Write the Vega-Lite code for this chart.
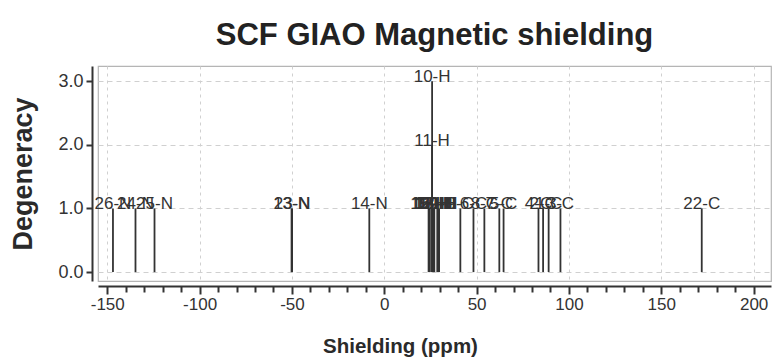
{
  "$schema": "https://vega.github.io/schema/vega-lite/v6.json",
  "autosize": "none",
  "width": 673,
  "height": 215,
  "padding": {"left": 98, "top": 66, "right": 1, "bottom": 82},
  "background": "white",
  "title": {
    "text": "SCF GIAO Magnetic shielding",
    "font": "Liberation Sans",
    "fontSize": 31,
    "fontWeight": "bold",
    "color": "#222222",
    "anchor": "middle",
    "offset": 14
  },
  "config": {
    "view": {"stroke": "#b5b5b5", "strokeWidth": 1.2},
    "axis": {
      "labelFont": "Liberation Sans",
      "titleFont": "Liberation Sans",
      "labelColor": "#333333",
      "titleColor": "#2a2a2a",
      "domainColor": "#333333",
      "tickColor": "#333333",
      "gridColor": "#d0d0d0",
      "domainWidth": 2,
      "tickWidth": 2
    }
  },
  "data": {
    "values": [
      {"label": "26-N", "shielding": -146.9, "degeneracy": 1},
      {"label": "24-N", "shielding": -134.7, "degeneracy": 1},
      {"label": "25-N", "shielding": -124.4, "degeneracy": 1},
      {"label": "13-N", "shielding": -50.2, "degeneracy": 1},
      {"label": "23-N", "shielding": -49.9, "degeneracy": 1},
      {"label": "14-N", "shielding": -8.1, "degeneracy": 1},
      {"label": "15-H", "shielding": 24.0, "degeneracy": 1},
      {"label": "16-H", "shielding": 24.7, "degeneracy": 1},
      {"label": "12-H", "shielding": 25.9, "degeneracy": 1},
      {"label": "11-H", "shielding": 25.9, "degeneracy": 2},
      {"label": "10-H", "shielding": 25.9, "degeneracy": 3},
      {"label": "17-H", "shielding": 26.6, "degeneracy": 1},
      {"label": "18-H", "shielding": 27.1, "degeneracy": 1},
      {"label": "19-H", "shielding": 28.7, "degeneracy": 1},
      {"label": "20-H", "shielding": 29.2, "degeneracy": 1},
      {"label": "21-H", "shielding": 29.7, "degeneracy": 1},
      {"label": "9-C", "shielding": 41.2, "degeneracy": 1},
      {"label": "6-C", "shielding": 48.3, "degeneracy": 1},
      {"label": "8-C", "shielding": 54.2, "degeneracy": 1},
      {"label": "7-C", "shielding": 62.3, "degeneracy": 1},
      {"label": "5-C", "shielding": 64.6, "degeneracy": 1},
      {"label": "4-C", "shielding": 83.5, "degeneracy": 1},
      {"label": "2-C", "shielding": 86.0, "degeneracy": 1},
      {"label": "1-C", "shielding": 89.0, "degeneracy": 1},
      {"label": "3-C", "shielding": 95.4, "degeneracy": 1},
      {"label": "22-C", "shielding": 171.9, "degeneracy": 1}
    ]
  },
  "encoding": {
    "x": {
      "field": "shielding",
      "type": "quantitative",
      "scale": {"domain": [-155, 209.4], "nice": false, "zero": false},
      "axis": {
        "title": "Shielding (ppm)",
        "titleFontSize": 20.5,
        "titleFontWeight": "bold",
        "titlePadding": 24,
        "titleX": 302,
        "titleAlign": "center",
        "titleAnchor": null,
        "values": [-150, -140, -130, -120, -110, -100, -90, -80, -70, -60, -50, -40, -30, -20, -10, 0, 10, 20, 30, 40, 50, 60, 70, 80, 90, 100, 110, 120, 130, 140, 150, 160, 170, 180, 190, 200],
        "labelExpr": "datum.value % 50 === 0 ? toString(datum.value) : ''",
        "labelFontSize": 17,
        "labelPadding": 2,
        "tickSize": {"condition": {"test": "datum.value % 50 === 0", "value": 8}, "value": 6},
        "grid": true,
        "gridOpacity": {"condition": {"test": "datum.value % 50 === 0", "value": 1}, "value": 0},
        "gridDash": [3, 4],
        "offset": 5,
        "labelFlush": false
      }
    },
    "y": {
      "field": "degeneracy",
      "type": "quantitative",
      "scale": {"domain": [-0.14, 3.24], "nice": false, "zero": false},
      "axis": {
        "title": "Degeneracy",
        "titleFontSize": 27,
        "titleFontWeight": "bold",
        "titlePadding": 20,
        "values": [0, 1, 2, 3],
        "format": ".1f",
        "labelFontSize": 18,
        "labelPadding": 3,
        "tickSize": 6,
        "grid": true,
        "gridDash": [5, 4],
        "offset": 6
      }
    }
  },
  "layer": [
    {
      "mark": {"type": "rule", "color": "#333333", "strokeWidth": 1.8},
      "encoding": {"y2": {"datum": 0}}
    },
    {
      "mark": {"type": "text", "font": "Liberation Sans", "fontSize": 17, "color": "#333333", "baseline": "alphabetic", "align": "center", "dy": 1},
      "encoding": {"text": {"field": "label"}}
    }
  ]
}
